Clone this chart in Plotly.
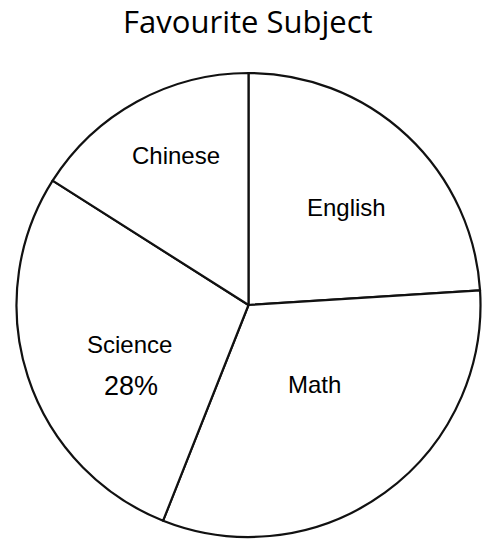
import plotly.graph_objects as go

subjects = ["English", "Math", "Science", "Chinese"]
shares = [24, 32, 28, 16]
percent_label = "28%"

# label positions (paper coords) for each subject, matched by name
label_pos = {
    "Chinese": (0.362, 0.714),
    "English": (0.712, 0.618),
    "Math": (0.648, 0.290),
    "Science": (0.267, 0.365),
}

fig = go.Figure(go.Pie(
    labels=subjects,
    values=shares,
    textinfo="none",
    sort=False,
    direction="clockwise",
    rotation=0,
    marker=dict(colors=["white"] * 4, line=dict(color="#111111", width=2.2)),
    hoverinfo="label+percent",
    showlegend=False,
    domain=dict(x=[15 / 486, 482 / 486], y=[1 - 537 / 542, 1 - 73 / 542]),
))

label_font = dict(family="Liberation Sans, Arial", size=24, color="black")
for name in subjects:
    x, y = label_pos[name]
    fig.add_annotation(text=name, x=x, y=y, xref="paper", yref="paper",
                       xanchor="center", yanchor="middle",
                       showarrow=False, font=label_font)
fig.add_annotation(text=percent_label, x=0.270, y=0.288, xref="paper", yref="paper",
                   xanchor="center", yanchor="middle",
                   showarrow=False, font=dict(label_font, size=27))

fig.update_layout(
    title=dict(text="Favourite Subject", x=0.51, xanchor="center", y=0.959, yanchor="middle",
               font=dict(family="Open Sans", size=31, color="black")),
    width=486, height=542,
    margin=dict(l=0, r=0, t=0, b=0),
    paper_bgcolor="white",
    plot_bgcolor="white",
)

fig.write_html("out.html", config={"displayModeBar": False},
               post_script="document.body.style.margin='0';")
